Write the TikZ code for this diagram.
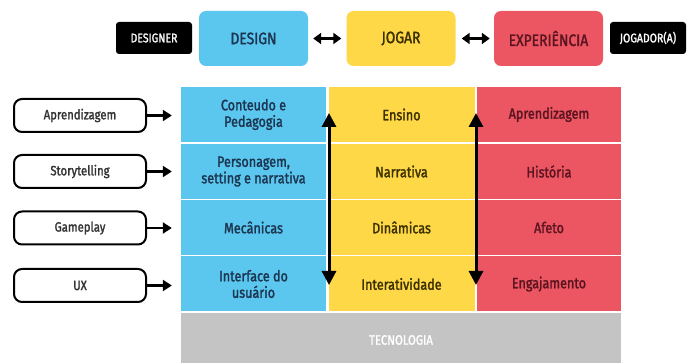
\documentclass[tikz,border=0pt]{standalone}
\usepackage{fontspec}
\setmainfont{Fira Sans}[FakeStretch=0.84,FakeBold=1.6]
\usetikzlibrary{arrows.meta}
\definecolor{cblue}{HTML}{5BC6EE}
\definecolor{cyel}{HTML}{FFD848}
\definecolor{cred}{HTML}{EC5562}
\definecolor{cgray}{HTML}{C4C4C4}
\definecolor{tblue}{HTML}{1C3550}
\definecolor{tyel}{HTML}{3A3000}
\definecolor{tred}{HTML}{5A1520}
\definecolor{tgray}{HTML}{333333}
\tikzset{
  head/.style={rounded corners=7pt, minimum width=109pt, minimum height=55pt, font=\fontsize{16.5}{18}\selectfont},
  role/.style={rounded corners=3pt, fill=black, text=white, minimum width=76pt, minimum height=32pt, font=\fontsize{12.5}{14}\selectfont},
  lbox/.style={draw=black, line width=2pt, rounded corners=8pt, fill=white, minimum width=132pt, minimum height=33pt, text=tgray, font=\fontsize{13.5}{15}\selectfont},
  cell/.style={minimum width=#1, minimum height=55pt, inner sep=0pt, align=center, font=\fontsize{15}{16.5}\selectfont},
  bcell/.style={cell=145pt, fill=cblue, text=tblue},
  ycell/.style={cell=146pt, fill=cyel, text=tyel},
  rcell/.style={cell=144pt, fill=cred, text=tred},
  dbl/.style={line width=3pt, {Triangle[length=8pt,width=11pt]}-{Triangle[length=8pt,width=11pt]}},
  vdbl/.style={line width=3pt, {Triangle[length=14pt,width=14pt]}-{Triangle[length=14pt,width=14pt]}},
  rarr/.style={line width=2.5pt, -{Triangle[length=9pt,width=11pt]}}
}
\begin{document}
\begin{tikzpicture}[x=1pt,y=-1pt]
\useasboundingbox (0,0) rectangle (688,363);
% header
\node[role] (designer) at (154,38) {DESIGNER};
\node[head, fill=cblue, text=tblue] (design) at (253.5,38.5) {DESIGN};
\node[head, fill=cyel, text=tyel] (jogar) at (401,38.5) {JOGAR};
\node[head, fill=cred, text=tred] (exp) at (548.5,38.5) {EXPERIÊNCIA};
\node[role] (jogador) at (648,38) {JOGADOR(A)};
\draw[dbl] ([xshift=5pt]design.east) -- ([xshift=-5pt]jogar.west);
\draw[dbl] ([xshift=6pt]jogar.east) -- ([xshift=-4pt]exp.west);
% table
\node[bcell] (b1c) at (253.5,114.5) {Conteudo e\\Pedagogia};
\node[bcell] (b2c) at (253.5,171.5) {Personagem,\\setting e narrativa};
\node[bcell] (b3c) at (253.5,227.5) {Mecânicas};
\node[bcell] (b4c) at (253.5,284) {Interface do\\usuário};
\node[ycell] (y1c) at (401.5,114.5) {Ensino};
\node[ycell] (y2c) at (401.5,171.5) {Narrativa};
\node[ycell] (y3c) at (401.5,227.5) {Dinâmicas};
\node[ycell] (y4c) at (401.5,284) {Interatividade};
\node[rcell] (r1c) at (549,114.5) {Aprendizagem};
\node[rcell] (r2c) at (549,171.5) {História};
\node[rcell] (r3c) at (549,227.5) {Afeto};
\node[rcell] (r4c) at (549,284) {Engajamento};
\node[fill=cgray, minimum width=440pt, minimum height=50pt, inner sep=0pt] (tec) at (401,338) {};
\node[text=white, font=\fontsize{13.5}{15}\selectfont] (tectext) at (401,340) {TECNOLOGIA};
% vertical arrows
\coordinate (v1t) at (329,113);
\coordinate (v1b) at (329,285);
\coordinate (v2t) at (476,113);
\coordinate (v2b) at (476,285);
\draw[vdbl] (v1t) -- (v1b);
\draw[vdbl] (v2t) -- (v2b);
% left boxes
\node[lbox] (l1) at (80,115.5) {Aprendizagem};
\node[lbox] (l2) at (80,171.5) {Storytelling};
\node[lbox] (l3) at (80,228) {Gameplay};
\node[lbox] (l4) at (80,285.5) {UX};
\draw[rarr] (l1.east) -- ([xshift=-9pt]b1c.west |- l1.east);
\draw[rarr] (l2.east) -- ([xshift=-9pt]b2c.west |- l2.east);
\draw[rarr] (l3.east) -- ([xshift=-9pt]b3c.west |- l3.east);
\draw[rarr] (l4.east) -- ([xshift=-9pt]b4c.west |- l4.east);
\end{tikzpicture}
\end{document}
